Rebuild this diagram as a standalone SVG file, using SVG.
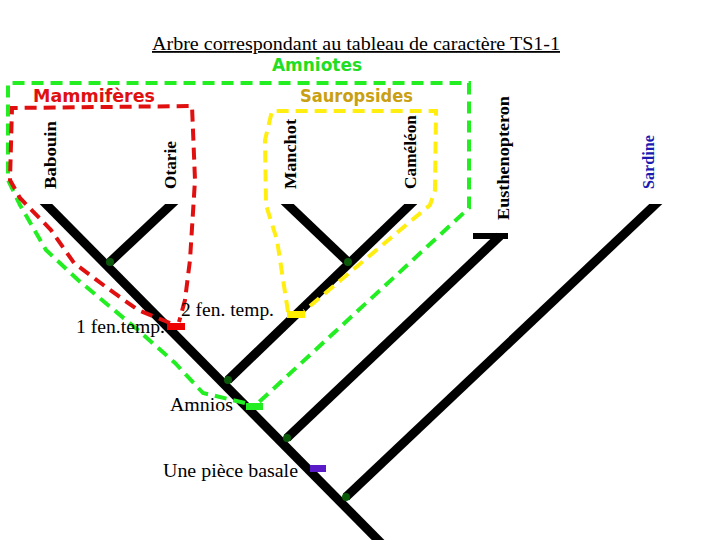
<svg xmlns="http://www.w3.org/2000/svg" width="720" height="540" viewBox="0 0 720 540">
<style>
.br{stroke:#000;stroke-width:9;fill:none;stroke-linecap:butt}
.dg{fill:none;stroke:#22ee22;stroke-width:4;stroke-dasharray:12 7}
.dr{fill:none;stroke:#e01010;stroke-width:4;stroke-dasharray:12 7}
.dy{fill:none;stroke:#ffee10;stroke-width:4;stroke-dasharray:12 7}
.tx{font-family:"Liberation Serif","Times New Roman",serif;font-size:18px;fill:#000}
.tax{font-family:"Liberation Serif","Times New Roman",serif;font-size:17px;font-weight:bold}
.grp{font-family:"DejaVu Sans",Verdana,sans-serif;font-size:17px;font-weight:bold}
.nd{fill:#0a5a0a}
</style>
<defs>
<clipPath id="tips"><rect x="0" y="204" width="720" height="340"/></clipPath>
</defs>
<rect width="720" height="540" fill="#fff"/>
<text class="tx" x="152" y="50" textLength="408" lengthAdjust="spacingAndGlyphs" text-decoration="underline">Arbre correspondant au tableau de caractère TS1-1</text>
<g id="connectors">
<g clip-path="url(#tips)">
<line class="br" x1="42" y1="200" x2="383" y2="545"/>
<line class="br" x1="176" y1="200" x2="110" y2="262"/>
<line class="br" x1="283" y1="200" x2="348" y2="262"/>
<line class="br" x1="415" y1="200" x2="228" y2="380"/>
<line class="br" x1="660" y1="200" x2="346" y2="497"/>
</g>
<line class="br" x1="500" y1="236" x2="287" y2="438"/>
<line x1="473" y1="236" x2="508" y2="236" stroke="#000" stroke-width="6"/>
</g>
<g id="nodes-internal">
<circle class="nd" cx="110" cy="262" r="4"/>
<circle class="nd" cx="348" cy="262" r="4"/>
<circle class="nd" cx="228" cy="380" r="4"/>
<circle class="nd" cx="287" cy="438" r="4"/>
<circle class="nd" cx="346" cy="497" r="4"/>
</g>
<g id="group-amniotes">
<polyline class="dg" points="245,403 203,393 175,363 138,330 78,280 46,250 20,205 8,180 8,83 469,83 469,208 258,403"/>
<text class="grp" x="272" y="71" fill="#22dd22" textLength="90" lengthAdjust="spacingAndGlyphs">Amniotes</text>
</g>
<g id="group-mammiferes">
<polyline class="dr" points="170,323 138,310 110,290 74,263 51,230 20,198 10,180 12,108 192,106 195,180 190,260 185,300 179,322"/>
<text class="grp" x="33" y="102" fill="#e01010" textLength="122" lengthAdjust="spacingAndGlyphs">Mammifères</text>
</g>
<g id="group-sauropsides">
<polyline class="dy" points="288,312 277,240 266,205 265,140 272,111 436,111 435,190 430,205 304,311"/>
<text class="grp" x="300" y="102" fill="#c9a012" textLength="113" lengthAdjust="spacingAndGlyphs">Sauropsides</text>
</g>
<g id="taxon-babouin"><text class="tax" transform="translate(56,189) rotate(-90)" textLength="68" lengthAdjust="spacingAndGlyphs">Babouin</text></g>
<g id="taxon-otarie"><text class="tax" transform="translate(176,189) rotate(-90)" textLength="48" lengthAdjust="spacingAndGlyphs">Otarie</text></g>
<g id="taxon-manchot"><text class="tax" transform="translate(296,189) rotate(-90)" textLength="70" lengthAdjust="spacingAndGlyphs">Manchot</text></g>
<g id="taxon-cameleon"><text class="tax" transform="translate(416,189) rotate(-90)" textLength="74" lengthAdjust="spacingAndGlyphs">Caméléon</text></g>
<g id="taxon-eusthenopteron"><text class="tax" transform="translate(509,220) rotate(-90)" textLength="124" lengthAdjust="spacingAndGlyphs">Eusthenopteron</text></g>
<g id="taxon-sardine"><text class="tax" fill="#1a1ab0" transform="translate(654,189) rotate(-90)" textLength="54" lengthAdjust="spacingAndGlyphs">Sardine</text></g>
<g id="char-1fen">
<rect x="167" y="323" width="18" height="7" fill="#ee0000"/>
<text class="tx" x="76" y="333" textLength="89" lengthAdjust="spacingAndGlyphs">1 fen.temp.</text>
</g>
<g id="char-2fen">
<rect x="287" y="311" width="18" height="7" fill="#ffee00"/>
<text class="tx" x="181" y="316" textLength="93" lengthAdjust="spacingAndGlyphs">2 fen. temp.</text>
</g>
<g id="char-amnios">
<rect x="246" y="403" width="17" height="7" fill="#22ee22"/>
<text class="tx" x="170" y="411" textLength="63" lengthAdjust="spacingAndGlyphs">Amnios</text>
</g>
<g id="char-piece">
<rect x="310" y="465" width="16" height="7" fill="#5a1ac8"/>
<text class="tx" x="163" y="477" textLength="135" lengthAdjust="spacingAndGlyphs">Une pièce basale</text>
</g>
</svg>
